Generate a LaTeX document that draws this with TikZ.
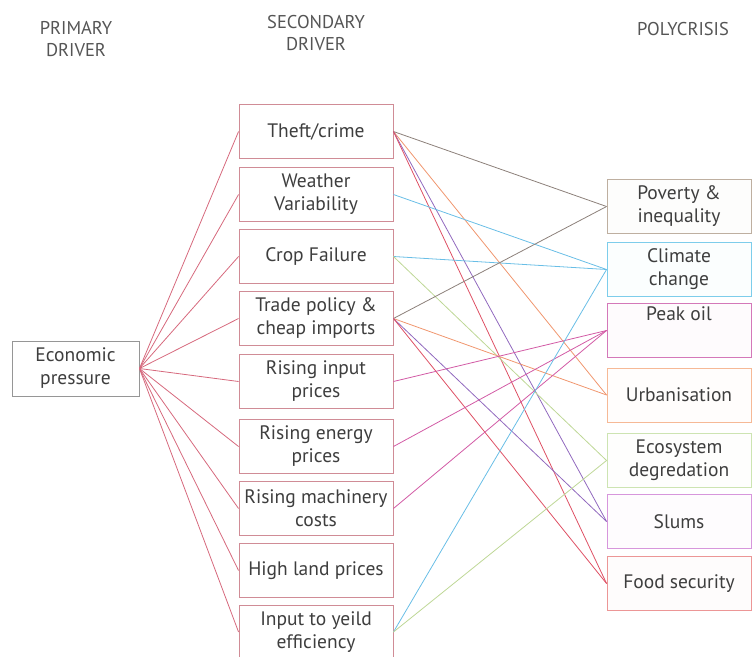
\documentclass[tikz,border=0pt]{standalone}
\usepackage{fontspec}
\setmainfont{PT Sans}
\definecolor{txt}{RGB}{62,62,62}
\definecolor{hdr}{RGB}{85,85,85}
\definecolor{secb}{RGB}{208,140,150}
\definecolor{econb}{RGB}{150,150,150}
\definecolor{econl}{RGB}{214,105,125}
\definecolor{povb}{RGB}{190,175,160}
\definecolor{povl}{RGB}{140,128,122}
\definecolor{clib}{RGB}{125,205,235}
\definecolor{clil}{RGB}{105,190,230}
\definecolor{peakb}{RGB}{212,120,185}
\definecolor{peakl}{RGB}{210,90,165}
\definecolor{urbb}{RGB}{246,185,150}
\definecolor{urbl}{RGB}{240,150,110}
\definecolor{ecob}{RGB}{205,228,178}
\definecolor{ecol}{RGB}{190,215,150}
\definecolor{slub}{RGB}{215,150,220}
\definecolor{slul}{RGB}{145,105,190}
\definecolor{foob}{RGB}{236,150,150}
\definecolor{fool}{RGB}{222,80,100}
\tikzset{
  every node/.style={font=\fontsize{19.5}{23}\selectfont, text=txt, align=center, inner sep=0pt},
  secbox/.style={draw=secb, line width=0.9pt, fill=white, minimum width=154pt, minimum height=54pt},
  econbox/.style={draw=econb, line width=0.9pt, fill=white, minimum width=127pt, minimum height=55pt},
  polybox/.style={draw=#1, line width=0.9pt, fill=#1!3, minimum width=144pt, minimum height=54pt},
  hdrtext/.style={font=\fontsize{18.5}{22}\selectfont, text=hdr},
  link/.style={draw=#1, line width=0.8pt},
}
\begin{document}
\begin{tikzpicture}[x=1pt,y=-1pt]
\useasboundingbox (0,0) rectangle (752,656);
% headers
\node[hdrtext] (h1) at (76,39) {PRIMARY\\DRIVER};
\node[hdrtext] (h2) at (316,33) {SECONDARY\\DRIVER};
\node[hdrtext] (h3) at (683,29) {POLYCRISIS};
% primary
\node[econbox] (econ) at (75.5,368.5) {Economic\\pressure};
% secondary
\node[secbox] (theft) at (316,131.5) {Theft/crime};
\node[secbox] (weather) at (316,194.5) {Weather\\Variability};
\node[secbox] (crop) at (316,256.5) {Crop Failure};
\node[secbox] (trade) at (316,318.5) {Trade policy \&\\cheap imports};
\node[secbox] (input) at (316,381.5) {Rising input\\prices};
\node[secbox] (energy) at (316,446.5) {Rising energy\\prices};
\node[secbox] (mach) at (316,508.5) {Rising machinery\\costs};
\node[secbox] (land) at (316,570.5) {High land prices};
\node[secbox] (yield) at (316,632) {Input to yeild\\efficiency};
% polycrisis
\node[polybox=povb] (pov) at (679,206.5) {Poverty \&\\inequality};
\node[polybox=clib] (cli) at (679,269.5) {Climate\\change};
\node[polybox=peakb, label={[anchor=north, yshift=-3pt]north:{Peak oil}}] (peak) at (679,330.5) {};
\node[polybox=urbb] (urb) at (679,395) {Urbanisation};
\node[polybox=ecob] (eco) at (679,460.5) {Ecosystem\\degredation};
\node[polybox=slub] (slu) at (679,521.5) {Slums};
\node[polybox=foob] (foo) at (679,583.5) {Food security};
% primary -> secondary
\foreach \n in {theft,weather,crop,trade,input,energy,mach,land,yield}
  \draw[link=econl] (econ.east) -- (\n.west);
% secondary -> polycrisis
\draw[link=povl] (theft.east) -- (pov.west);
\draw[link=urbl] (theft.east) -- (urb.west);
\draw[link=slul] (theft.east) -- (slu.west);
\draw[link=fool] (theft.east) -- (foo.west);
\draw[link=clil] (weather.east) -- (cli.west);
\draw[link=clil] (crop.east) -- (cli.west);
\draw[link=ecol] (crop.east) -- (eco.west);
\draw[link=povl] (trade.east) -- (pov.west);
\draw[link=urbl] (trade.east) -- (urb.west);
\draw[link=slul] (trade.east) -- (slu.west);
\draw[link=fool] (trade.east) -- (foo.west);
\draw[link=peakl] (input.east) -- (peak.west);
\draw[link=peakl] (energy.east) -- (peak.west);
\draw[link=peakl] (mach.east) -- (peak.west);
\draw[link=clil] (yield.east) -- (cli.west);
\draw[link=ecol] (yield.east) -- (eco.west);
\end{tikzpicture}
\end{document}
